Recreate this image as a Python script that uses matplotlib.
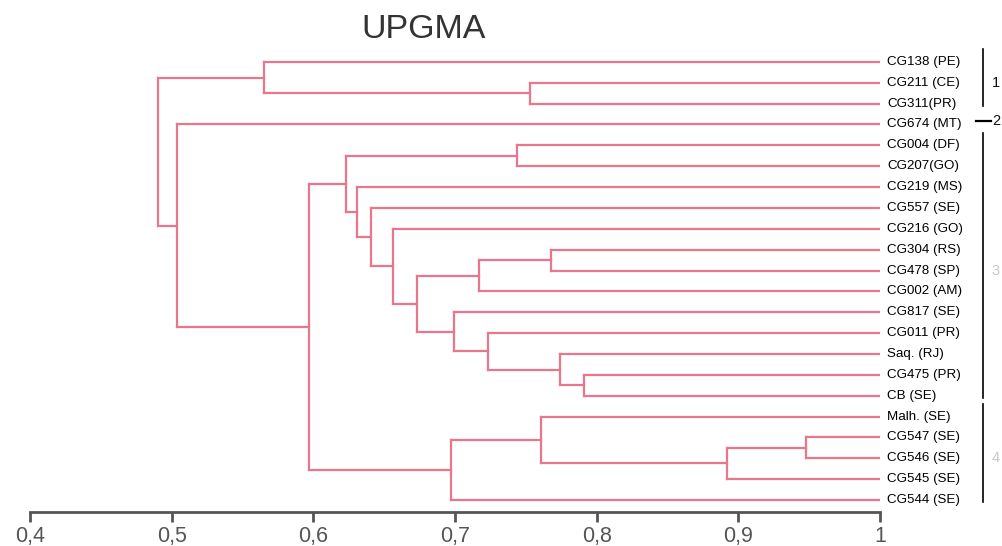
import matplotlib
matplotlib.use("Agg")
import matplotlib.pyplot as plt

# leaf labels, top to bottom
leaves = ["CG138 (PE)", "CG211 (CE)", "CG311(PR)", "CG674 (MT)", "CG004 (DF)",
          "CG207(GO)", "CG219 (MS)", "CG557 (SE)", "CG216 (GO)", "CG304 (RS)",
          "CG478 (SP)", "CG002 (AM)", "CG817 (SE)", "CG011 (PR)", "Saq. (RJ)",
          "CG475 (PR)", "CB (SE)", "Malh. (SE)", "CG547 (SE)", "CG546 (SE)",
          "CG545 (SE)", "CG544 (SE)"]

# merges (child a, child b, similarity); new node ids start at len(leaves)
merge_a = [1, 0, 4, 9, 25, 15, 14, 13, 12, 26, 8, 7, 6, 24, 18, 36, 17, 38, 35, 3, 23]
merge_b = [2, 22, 5, 10, 11, 16, 27, 28, 29, 30, 31, 32, 33, 34, 19, 20, 37, 21, 39, 40, 41]
merge_h = [0.753, 0.565, 0.744, 0.768, 0.717, 0.791, 0.774, 0.723, 0.699, 0.673,
           0.656, 0.641, 0.631, 0.623, 0.948, 0.892, 0.761, 0.697, 0.597, 0.504, 0.490]

# groups at the right: (first leaf, last leaf, label)
group_first = [0, 3, 4, 17]
group_last = [2, 3, 16, 21]
group_names = ["1", "2", "3", "4"]

ticks = [0.4, 0.5, 0.6, 0.7, 0.8, 0.9, 1.0]
tick_labels = ["0,4", "0,5", "0,6", "0,7", "0,8", "0,9", "1"]

pink = "#e8768c"
plt.rcParams['font.family'] = ['Liberation Sans', 'DejaVu Sans']

fig = plt.figure(figsize=(10.02, 5.46), dpi=100)
ax = fig.add_axes([30 / 1002, 1 - 512 / 546, 850 / 1002, 472 / 546])

n = len(leaves)
xpos = {i: 1.0 for i in range(n)}
ypos = {i: float(i) for i in range(n)}

for k in range(len(merge_h)):
    a, b, h = merge_a[k], merge_b[k], merge_h[k]
    node = n + k
    ax.plot([h, h], [ypos[a], ypos[b]], color=pink, lw=1.6, solid_capstyle="projecting")
    for c in (a, b):
        ax.plot([h, xpos[c]], [ypos[c], ypos[c]], color=pink, lw=1.6, solid_capstyle="projecting")
    xpos[node] = h
    ypos[node] = (ypos[a] + ypos[b]) / 2

for i, name in enumerate(leaves):
    ax.annotate(name, (1.0, i), xytext=(7, 0), textcoords="offset pixels",
                va="center", ha="left", fontsize=9.6, color="black", annotation_clip=False)

# group brackets, numbers sit at the right edge of the figure
lab_tr = ax.get_yaxis_transform()
for f, l, g in zip(group_first, group_last, group_names):
    if f == l:
        ax.plot([1.068, 1.078], [f - 0.15, f - 0.15], color="black", lw=1.6, clip_on=False)
        ymid = f - 0.15
    else:
        ax.plot([1.073, 1.073], [f - 0.6, l + 0.1], color="black", lw=1.2, clip_on=False)
        ymid = (f + l) / 2
    faint = "#111111" if g in ("1", "2") else "#c8c8c8"
    ax.annotate(g, xy=(0, ymid), xycoords=("figure fraction", "data"),
                xytext=(1000, 0), textcoords="offset pixels",
                va="center", ha="right", fontsize=10.5, color=faint, annotation_clip=False)

ax.set_xlim(0.4, 1.0)
ax.set_ylim(21.575, -1.05)
ax.set_xticks(ticks)
ax.set_xticklabels(tick_labels)
ax.set_yticks([])
for s in ("top", "right", "left"):
    ax.spines[s].set_visible(False)
ax.spines["bottom"].set_color("#555555")
ax.spines["bottom"].set_linewidth(2)
ax.tick_params(axis="x", colors="#555555", labelsize=15.5, length=7, width=2, pad=3)
ax.patch.set_alpha(0)

fig.text(424 / 1002, 1 - 30 / 546, "UPGMA", ha="center", va="center", fontsize=24.5, color="#333333")

fig.savefig("out.png", dpi=100)
